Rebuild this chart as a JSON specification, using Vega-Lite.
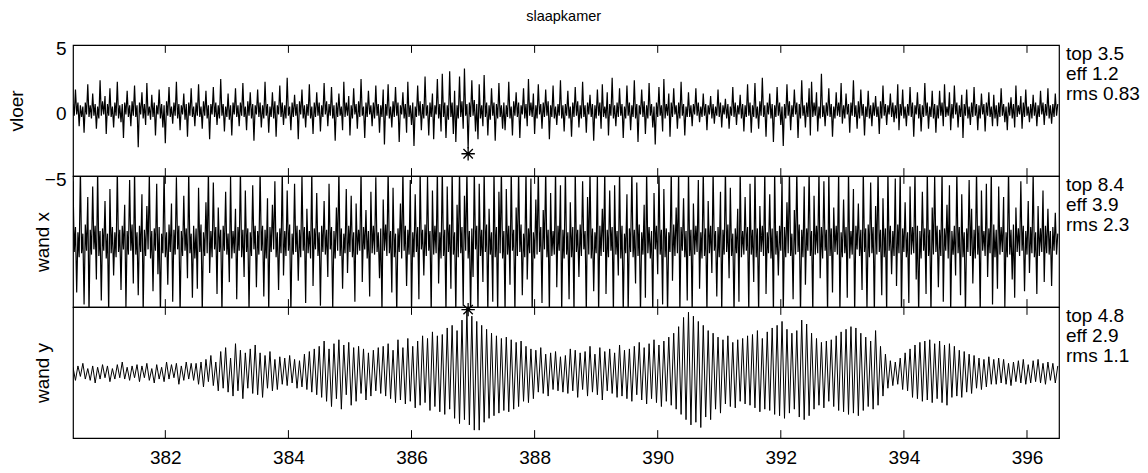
{
"$schema": "https://vega.github.io/schema/vega-lite/v6.json",
"background": "white",
"padding": {"left": 6, "top": 8, "right": 5, "bottom": 5},
"title": {"text": "slaapkamer", "font": "Liberation Sans", "fontSize": 14.5, "fontWeight": "normal", "color": "black", "anchor": "middle", "offset": 14, "dx": -10},
"bounds": "flush",
"spacing": 0,
"config": {
  "font": "Liberation Sans",
  "view": {"stroke": "black", "strokeWidth": 1.2},
  "axis": {"grid": false, "domain": false, "tickColor": "black", "labelColor": "black", "titleColor": "black", "labelFont": "Liberation Sans", "titleFont": "Liberation Sans", "labelFontSize": 19, "titleFontSize": 19, "titleFontWeight": "normal", "tickWidth": 1}
},
"datasets": {
"ticks": [{"tk":382},{"tk":384},{"tk":386},{"tk":388},{"tk":390},{"tk":392},{"tk":394},{"tk":396}],
"stars": [{"t":386.92,"v":-3.3,"p":"a"},{"t":386.92,"v":4.8,"p":"c"}],
"sig": [
{"t":380.50,"a":0.5,"b":4.6,"c":0.4},{"t":380.52,"a":-0.4,"b":-0.8},
{"t":380.54,"a":1.6,"b":1.1,"c":-0.6},{"t":380.56,"a":-0.3,"b":-3.9},
{"t":380.58,"a":0.6,"b":0.7,"c":0.5},{"t":380.60,"a":-1.2,"b":-1.2},
{"t":380.62,"a":0.4,"b":5.5,"c":-0.3},{"t":380.64,"a":-0.5,"b":-0.9},
{"t":380.66,"a":0.3,"b":0.6,"c":0.7},{"t":380.68,"a":-1.7,"b":-4.8},
{"t":380.70,"a":0.6,"b":1.3,"c":-0.5},{"t":380.72,"a":-0.3,"b":-0.7},
{"t":380.74,"a":2.0,"b":3.4,"c":0.3},{"t":380.76,"a":-0.5,"b":-5.5},
{"t":380.78,"a":0.4,"b":0.9,"c":-0.6},{"t":380.80,"a":-0.6,"b":-1.0},
{"t":380.82,"a":1.3,"b":4.2,"c":0.5},{"t":380.84,"a":-0.4,"b":-0.6},
{"t":380.86,"a":0.5,"b":1.2,"c":-0.8},{"t":380.88,"a":-1.4,"b":-2.9},
{"t":380.90,"a":0.3,"b":5.5,"c":0.4},{"t":380.92,"a":-0.6,"b":-1.1},
{"t":380.94,"a":2.3,"b":0.8,"c":-0.5},{"t":380.96,"a":-0.4,"b":-4.5},
{"t":380.98,"a":0.7,"b":1.0,"c":0.6},{"t":381.00,"a":-0.3,"b":-0.7},
{"t":381.02,"a":1.1,"b":3.1,"c":-0.4},{"t":381.04,"a":-1.8,"b":-1.3},
{"t":381.06,"a":0.5,"b":0.6,"c":0.5},{"t":381.08,"a":-0.4,"b":-5.5},
{"t":381.10,"a":1.7,"b":4.0,"c":-0.7},{"t":381.12,"a":-0.5,"b":-0.9},
{"t":381.14,"a":0.3,"b":1.1,"c":0.3},{"t":381.16,"a":-1.3,"b":-2.6},
{"t":381.18,"a":0.6,"b":0.7,"c":-0.5},{"t":381.20,"a":-0.4,"b":-1.2},
{"t":381.22,"a":2.2,"b":5.5,"c":0.6},{"t":381.24,"a":-0.6,"b":-0.8},
{"t":381.26,"a":0.4,"b":0.9,"c":-0.4},{"t":381.28,"a":-0.9,"b":-3.7},
{"t":381.30,"a":0.5,"b":1.2,"c":0.8},{"t":381.32,"a":-2.1,"b":-0.6},
{"t":381.34,"a":0.6,"b":2.8,"c":-0.5},{"t":381.36,"a":-0.3,"b":-5.1},
{"t":381.38,"a":1.5,"b":0.8,"c":0.4},{"t":381.40,"a":-0.5,"b":-1.0},
{"t":381.42,"a":0.4,"b":4.7,"c":-0.6},{"t":381.44,"a":-1.2,"b":-0.7},
{"t":381.46,"a":0.7,"b":1.3,"c":0.5},{"t":381.48,"a":-0.4,"b":-3.2},
{"t":381.50,"a":1.9,"b":5.5,"c":-0.4},{"t":381.52,"a":-0.5,"b":-1.0},
{"t":381.54,"a":0.4,"b":0.7,"c":0.6},{"t":381.56,"a":-2.8,"b":-4.1},
{"t":381.58,"a":0.6,"b":1.2,"c":-0.7},{"t":381.60,"a":-0.3,"b":-0.8},
{"t":381.62,"a":1.4,"b":3.6,"c":0.5},{"t":381.64,"a":-0.6,"b":-5.5},
{"t":381.66,"a":0.5,"b":0.9,"c":-0.4},{"t":381.68,"a":-1.1,"b":-1.1},
{"t":381.70,"a":2.1,"b":2.7,"c":0.7},{"t":381.72,"a":-0.4,"b":-0.6},
{"t":381.74,"a":0.3,"b":5.2,"c":-0.6},{"t":381.76,"a":-0.7,"b":-1.3},
{"t":381.78,"a":1.2,"b":0.8,"c":0.3},{"t":381.80,"a":-0.5,"b":-3.8},
{"t":381.82,"a":0.6,"b":1.0,"c":-0.8},{"t":381.84,"a":-1.9,"b":-0.7},
{"t":381.86,"a":0.4,"b":4.4,"c":0.6},{"t":381.88,"a":-0.3,"b":-2.5},
{"t":381.90,"a":1.6,"b":1.1,"c":-0.5},{"t":381.92,"a":-0.6,"b":-5.5},
{"t":381.94,"a":0.5,"b":0.6,"c":0.4},{"t":381.96,"a":-1.3,"b":-0.9},
{"t":381.98,"a":0.4,"b":5.5,"c":-0.7},{"t":382.00,"a":-2.5,"b":-1.2},
{"t":382.02,"a":0.7,"b":0.7,"c":0.8},{"t":382.04,"a":-0.4,"b":-3.3},
{"t":382.06,"a":1.8,"b":1.3,"c":-0.5},{"t":382.08,"a":-0.5,"b":-0.8},
{"t":382.10,"a":0.3,"b":2.9,"c":0.6},{"t":382.12,"a":-1.0,"b":-4.6},
{"t":382.14,"a":0.6,"b":0.9,"c":-0.4},{"t":382.16,"a":-0.4,"b":-1.0},
{"t":382.18,"a":2.2,"b":4.9,"c":0.7},{"t":382.20,"a":-0.6,"b":-0.6},
{"t":382.22,"a":0.5,"b":1.2,"c":-0.9},{"t":382.24,"a":-1.5,"b":-5.5},
{"t":382.26,"a":0.4,"b":0.8,"c":0.5},{"t":382.28,"a":-0.3,"b":-1.1},
{"t":382.30,"a":1.3,"b":3.5,"c":-0.6},{"t":382.32,"a":-0.7,"b":-0.7},
{"t":382.34,"a":0.5,"b":1.0,"c":0.8},{"t":382.36,"a":-2.0,"b":-2.8},
{"t":382.38,"a":0.6,"b":5.5,"c":-0.5},{"t":382.40,"a":-0.4,"b":-0.9},
{"t":382.42,"a":1.7,"b":0.6,"c":0.7},{"t":382.44,"a":-0.5,"b":-4.3},
{"t":382.46,"a":0.3,"b":1.2,"c":-0.6},{"t":382.48,"a":-1.2,"b":-1.3},
{"t":382.50,"a":0.6,"b":1.0,"c":0.7},{"t":382.52,"a":-0.4,"b":-3.6},
{"t":382.54,"a":2.0,"b":4.1,"c":-0.9},{"t":382.56,"a":-0.5,"b":-0.8},
{"t":382.58,"a":0.3,"b":1.3,"c":0.8},{"t":382.60,"a":-1.4,"b":-5.5},
{"t":382.62,"a":0.7,"b":0.7,"c":-1.1},{"t":382.64,"a":-0.4,"b":-1.1},
{"t":382.66,"a":1.5,"b":3.0,"c":1.0},{"t":382.68,"a":-0.6,"b":-0.9},
{"t":382.70,"a":0.4,"b":5.5,"c":-0.7},{"t":382.72,"a":-2.2,"b":-2.4},
{"t":382.74,"a":0.5,"b":0.8,"c":1.3},{"t":382.76,"a":-0.3,"b":-1.2},
{"t":382.78,"a":1.8,"b":4.5,"c":-1.0},{"t":382.80,"a":-0.5,"b":-0.6},
{"t":382.82,"a":0.6,"b":1.1,"c":0.8},{"t":382.84,"a":-1.1,"b":-4.0},
{"t":382.86,"a":0.4,"b":2.6,"c":-1.4},{"t":382.88,"a":-0.6,"b":-0.8},
{"t":382.90,"a":2.4,"b":0.9,"c":1.6},{"t":382.92,"a":-0.4,"b":-5.5},
{"t":382.94,"a":0.5,"b":1.2,"c":-1.2},{"t":382.96,"a":-1.6,"b":-0.7},
{"t":382.98,"a":0.3,"b":3.8,"c":1.9},{"t":383.00,"a":-0.5,"b":-1.0},
{"t":383.02,"a":1.3,"b":0.6,"c":-1.5},{"t":383.04,"a":-0.7,"b":-3.1},
{"t":383.06,"a":0.4,"b":5.0,"c":1.1},{"t":383.08,"a":-1.9,"b":-1.3},
{"t":383.10,"a":0.6,"b":0.8,"c":-1.8},{"t":383.12,"a":-0.3,"b":-0.9},
{"t":383.14,"a":1.7,"b":2.5,"c":2.2},{"t":383.16,"a":-0.5,"b":-4.4},
{"t":383.18,"a":0.4,"b":1.1,"c":-1.4},{"t":383.20,"a":-1.2,"b":-0.7},
{"t":383.22,"a":0.6,"b":5.5,"c":1.7},{"t":383.24,"a":-0.4,"b":-1.2},
{"t":383.26,"a":2.1,"b":0.9,"c":-2.0},{"t":383.28,"a":-0.5,"b":-2.7},
{"t":383.30,"a":0.3,"b":3.9,"c":1.5},{"t":383.32,"a":-1.5,"b":-0.8},
{"t":383.34,"a":0.7,"b":1.0,"c":-1.2},{"t":383.36,"a":-0.4,"b":-5.3},
{"t":383.38,"a":1.4,"b":0.7,"c":1.8},{"t":383.40,"a":-0.6,"b":-1.1},
{"t":383.42,"a":0.5,"b":4.3,"c":-1.6},{"t":383.44,"a":-2.3,"b":-0.6},
{"t":383.46,"a":0.4,"b":1.2,"c":2.1},{"t":383.48,"a":-0.3,"b":-3.5},
{"t":383.50,"a":1.6,"b":0.8,"c":-1.7},{"t":383.52,"a":-0.5,"b":-1.0},
{"t":383.54,"a":0.6,"b":5.5,"c":1.5},{"t":383.56,"a":-1.3,"b":-0.7},
{"t":383.58,"a":0.4,"b":1.2,"c":-1.9},{"t":383.60,"a":-0.6,"b":-4.2},
{"t":383.62,"a":2.2,"b":0.9,"c":1.3},{"t":383.64,"a":-0.4,"b":-1.3},
{"t":383.66,"a":0.5,"b":3.3,"c":-1.2},{"t":383.68,"a":-1.7,"b":-5.5},
{"t":383.70,"a":0.3,"b":1.1,"c":1.6},{"t":383.72,"a":-0.5,"b":-0.8},
{"t":383.74,"a":1.4,"b":2.8,"c":-1.4},{"t":383.76,"a":-0.6,"b":-0.6},
{"t":383.78,"a":0.7,"b":4.6,"c":1.0},{"t":383.80,"a":-2.0,"b":-1.2},
{"t":383.82,"a":0.4,"b":0.7,"c":-1.3},{"t":383.84,"a":-0.3,"b":-3.7},
{"t":383.86,"a":1.9,"b":1.0,"c":1.2},{"t":383.88,"a":-0.5,"b":-0.9},
{"t":383.90,"a":0.6,"b":5.5,"c":-0.9},{"t":383.92,"a":-1.1,"b":-2.6},
{"t":383.94,"a":0.4,"b":0.8,"c":1.1},{"t":383.96,"a":-0.6,"b":-1.1},
{"t":383.98,"a":2.5,"b":3.9,"c":-1.0},{"t":384.00,"a":-0.4,"b":-0.7},
{"t":384.02,"a":0.3,"b":1.3,"c":1.3},{"t":384.04,"a":-1.5,"b":-5.5},
{"t":384.06,"a":0.6,"b":0.6,"c":-0.8},{"t":384.08,"a":-0.5,"b":-1.0},
{"t":384.10,"a":1.2,"b":4.4,"c":1.0},{"t":384.12,"a":-0.4,"b":-0.8},
{"t":384.14,"a":0.5,"b":1.2,"c":-1.2},{"t":384.16,"a":-2.2,"b":-3.0},
{"t":384.18,"a":0.7,"b":0.9,"c":0.9},{"t":384.20,"a":-0.3,"b":-1.2},
{"t":384.22,"a":1.6,"b":5.1,"c":-1.1},{"t":384.24,"a":-0.6,"b":-0.7},
{"t":384.26,"a":0.4,"b":1.1,"c":1.4},{"t":384.28,"a":-1.3,"b":-4.7},
{"t":384.30,"a":0.5,"b":2.5,"c":-1.3},{"t":384.32,"a":-0.4,"b":-0.9},
{"t":384.34,"a":2.0,"b":0.8,"c":1.6},{"t":384.36,"a":-0.6,"b":-1.3},
{"t":384.38,"a":0.3,"b":5.5,"c":-1.5},{"t":384.40,"a":-1.8,"b":-3.4},
{"t":384.42,"a":0.6,"b":1.0,"c":1.8},{"t":384.44,"a":-0.5,"b":-0.6},
{"t":384.46,"a":1.4,"b":3.7,"c":-1.7},{"t":384.48,"a":-0.4,"b":-1.1},
{"t":384.50,"a":0.6,"b":0.7,"c":2.0},{"t":384.52,"a":-1.6,"b":-4.9},
{"t":384.54,"a":0.4,"b":1.2,"c":-1.9},{"t":384.56,"a":-0.5,"b":-0.8},
{"t":384.58,"a":2.1,"b":3.1,"c":2.4},{"t":384.60,"a":-0.3,"b":-1.0},
{"t":384.62,"a":0.7,"b":0.9,"c":-2.2},{"t":384.64,"a":-1.2,"b":-2.7},
{"t":384.66,"a":0.5,"b":4.4,"c":1.8},{"t":384.68,"a":-0.4,"b":-0.6},
{"t":384.70,"a":1.8,"b":1.1,"c":-2.6},{"t":384.72,"a":-0.6,"b":-5.2},
{"t":384.74,"a":0.4,"b":0.8,"c":2.2},{"t":384.76,"a":-2.3,"b":-1.3},
{"t":384.78,"a":0.6,"b":2.6,"c":-2.0},{"t":384.80,"a":-0.5,"b":-0.7},
{"t":384.82,"a":1.3,"b":5.5,"c":2.5},{"t":384.84,"a":-0.4,"b":-1.1},
{"t":384.86,"a":0.3,"b":1.0,"c":-2.8},{"t":384.88,"a":-1.5,"b":-3.6},
{"t":384.90,"a":2.2,"b":0.6,"c":2.1},{"t":384.92,"a":-0.5,"b":-0.9},
{"t":384.94,"a":0.6,"b":4.0,"c":-1.7},{"t":384.96,"a":-0.4,"b":-2.4},
{"t":384.98,"a":1.1,"b":1.2,"c":2.3},{"t":385.00,"a":-1.9,"b":-0.8},
{"t":385.02,"a":0.4,"b":3.5,"c":-2.5},{"t":385.04,"a":-0.6,"b":-1.2},
{"t":385.06,"a":1.7,"b":0.7,"c":1.9},{"t":385.08,"a":-0.3,"b":-4.6},
{"t":385.10,"a":0.5,"b":2.9,"c":-2.2},{"t":385.12,"a":-1.4,"b":-1.0},
{"t":385.14,"a":0.7,"b":0.9,"c":2.0},{"t":385.16,"a":-0.5,"b":-0.7},
{"t":385.18,"a":2.4,"b":5.5,"c":-1.6},{"t":385.20,"a":-0.4,"b":-3.1},
{"t":385.22,"a":0.3,"b":1.1,"c":1.8},{"t":385.24,"a":-2.1,"b":-0.6},
{"t":385.26,"a":0.6,"b":2.4,"c":-2.1},{"t":385.28,"a":-0.5,"b":-1.3},
{"t":385.30,"a":1.5,"b":0.8,"c":1.5},{"t":385.32,"a":-0.3,"b":-4.2},
{"t":385.34,"a":0.4,"b":3.8,"c":-1.8},{"t":385.36,"a":-1.2,"b":-0.9},
{"t":385.38,"a":0.6,"b":1.2,"c":1.7},{"t":385.40,"a":-0.6,"b":-1.0},
{"t":385.42,"a":1.9,"b":4.9,"c":-1.4},{"t":385.44,"a":-0.4,"b":-0.8},
{"t":385.46,"a":0.5,"b":0.7,"c":1.9},{"t":385.48,"a":-1.7,"b":-2.8},
{"t":385.50,"a":0.4,"b":1.0,"c":-1.6},{"t":385.52,"a":-0.5,"b":-5.5},
{"t":385.54,"a":1.6,"b":3.2,"c":2.0},{"t":385.56,"a":-2.6,"b":-0.7},
{"t":385.58,"a":0.5,"b":1.3,"c":-1.8},{"t":385.60,"a":-0.4,"b":-1.1},
{"t":385.62,"a":2.0,"b":5.5,"c":2.2},{"t":385.64,"a":-0.6,"b":-0.9},
{"t":385.66,"a":0.3,"b":0.8,"c":-2.0},{"t":385.68,"a":-1.3,"b":-3.9},
{"t":385.70,"a":0.7,"b":4.1,"c":1.7},{"t":385.72,"a":-0.5,"b":-1.2},
{"t":385.74,"a":1.8,"b":0.6,"c":-2.3},{"t":385.76,"a":-0.4,"b":-5.5},
{"t":385.78,"a":0.6,"b":1.0,"c":2.5},{"t":385.80,"a":-2.4,"b":-0.8},
{"t":385.82,"a":0.4,"b":2.9,"c":-2.1},{"t":385.84,"a":-0.3,"b":-1.3},
{"t":385.86,"a":1.4,"b":5.5,"c":1.9},{"t":385.88,"a":-0.6,"b":-0.7},
{"t":385.90,"a":0.5,"b":1.2,"c":-2.4},{"t":385.92,"a":-1.7,"b":-3.4},
{"t":385.94,"a":2.2,"b":0.9,"c":2.6},{"t":385.96,"a":-0.5,"b":-1.0},
{"t":385.98,"a":0.4,"b":4.7,"c":-2.2},{"t":386.00,"a":-1.1,"b":-5.5},
{"t":386.02,"a":0.6,"b":0.7,"c":2.0},{"t":386.04,"a":-2.7,"b":-1.2},
{"t":386.06,"a":0.3,"b":3.6,"c":-2.7},{"t":386.08,"a":-0.5,"b":-0.8},
{"t":386.10,"a":1.9,"b":1.1,"c":2.4},{"t":386.12,"a":-0.4,"b":-4.4},
{"t":386.14,"a":0.7,"b":5.5,"c":-2.5},{"t":386.16,"a":-1.5,"b":-0.6},
{"t":386.18,"a":0.5,"b":0.9,"c":2.8},{"t":386.20,"a":-0.6,"b":-2.6},
{"t":386.22,"a":2.6,"b":1.3,"c":-2.3},{"t":386.24,"a":-0.4,"b":-1.1},
{"t":386.26,"a":0.4,"b":5.0,"c":2.6},{"t":386.28,"a":-1.9,"b":-0.7},
{"t":386.30,"a":0.6,"b":0.8,"c":-2.9},{"t":386.32,"a":-0.5,"b":-5.5},
{"t":386.34,"a":1.3,"b":3.9,"c":3.1},{"t":386.36,"a":-2.2,"b":-1.0},
{"t":386.38,"a":0.4,"b":1.2,"c":-2.6},{"t":386.40,"a":-0.3,"b":-0.9},
{"t":386.42,"a":2.4,"b":5.5,"c":2.8},{"t":386.44,"a":-0.6,"b":-3.2},
{"t":386.46,"a":0.5,"b":0.7,"c":-3.0},{"t":386.48,"a":-1.6,"b":-1.3},
{"t":386.50,"a":2.8,"b":5.5,"c":2.9},{"t":386.52,"a":-0.5,"b":-1.1},
{"t":386.54,"a":0.6,"b":0.9,"c":-3.2},{"t":386.56,"a":-2.1,"b":-5.5},
{"t":386.58,"a":0.4,"b":4.2,"c":3.4},{"t":386.60,"a":-0.7,"b":-0.8},
{"t":386.62,"a":3.0,"b":1.3,"c":-2.8},{"t":386.64,"a":-0.5,"b":-3.6},
{"t":386.66,"a":0.6,"b":5.5,"c":3.6},{"t":386.68,"a":-1.8,"b":-1.0},
{"t":386.70,"a":1.5,"b":0.7,"c":-3.5},{"t":386.72,"a":-2.4,"b":-5.5},
{"t":386.74,"a":0.4,"b":2.8,"c":3.2},{"t":386.76,"a":-0.6,"b":-1.2},
{"t":386.78,"a":2.6,"b":5.5,"c":-3.9},{"t":386.80,"a":-0.5,"b":-0.9},
{"t":386.82,"a":0.7,"b":1.1,"c":4.0},{"t":386.84,"a":-1.4,"b":-4.9},
{"t":386.86,"a":3.2,"b":3.5,"c":-3.6},{"t":386.88,"a":-0.4,"b":-0.7},
{"t":386.90,"a":0.5,"b":5.5,"c":4.8},{"t":386.92,"a":-2.9,"b":-1.3},
{"t":386.94,"a":0.6,"b":0.8,"c":-4.0},{"t":386.96,"a":-0.5,"b":-5.5},
{"t":386.98,"a":2.3,"b":1.0,"c":4.3},{"t":387.00,"a":-0.4,"b":-2.7},
{"t":387.02,"a":0.8,"b":5.5,"c":-4.4},{"t":387.04,"a":-1.6,"b":-0.6},
{"t":387.06,"a":0.5,"b":1.2,"c":3.9},{"t":387.08,"a":-2.2,"b":-5.5},
{"t":387.10,"a":2.0,"b":4.4,"c":-4.4},{"t":387.12,"a":-0.6,"b":-1.1},
{"t":387.14,"a":0.4,"b":0.9,"c":3.6},{"t":387.16,"a":-1.2,"b":-3.1},
{"t":387.18,"a":2.7,"b":5.5,"c":-3.8},{"t":387.20,"a":-0.5,"b":-0.8},
{"t":387.22,"a":0.6,"b":1.3,"c":3.3},{"t":387.24,"a":-1.9,"b":-5.5},
{"t":387.26,"a":0.4,"b":2.5,"c":-3.5},{"t":387.28,"a":-0.7,"b":-1.0},
{"t":387.30,"a":1.7,"b":0.7,"c":3.0},{"t":387.32,"a":-0.4,"b":-4.6},
{"t":387.34,"a":0.6,"b":5.5,"c":-3.3},{"t":387.36,"a":-2.3,"b":-1.2},
{"t":387.38,"a":0.5,"b":1.1,"c":2.8},{"t":387.40,"a":-0.6,"b":-5.5},
{"t":387.42,"a":2.1,"b":3.8,"c":-3.1},{"t":387.44,"a":-0.5,"b":-0.9},
{"t":387.46,"a":0.4,"b":5.5,"c":2.6},{"t":387.48,"a":-1.4,"b":-1.3},
{"t":387.50,"a":0.6,"b":0.8,"c":-2.9},{"t":387.52,"a":-1.5,"b":-5.5},
{"t":387.54,"a":0.4,"b":4.0,"c":2.7},{"t":387.56,"a":-0.5,"b":-1.0},
{"t":387.58,"a":2.2,"b":1.2,"c":-3.0},{"t":387.60,"a":-0.6,"b":-3.3},
{"t":387.62,"a":0.3,"b":5.5,"c":2.5},{"t":387.64,"a":-1.9,"b":-0.7},
{"t":387.66,"a":0.7,"b":0.9,"c":-2.8},{"t":387.68,"a":-0.4,"b":-5.5},
{"t":387.70,"a":1.4,"b":2.6,"c":2.3},{"t":387.72,"a":-0.5,"b":-1.1},
{"t":387.74,"a":0.6,"b":5.5,"c":-2.6},{"t":387.76,"a":-2.1,"b":-0.8},
{"t":387.78,"a":0.4,"b":1.3,"c":2.4},{"t":387.80,"a":-0.3,"b":-4.1},
{"t":387.82,"a":1.7,"b":0.6,"c":-2.2},{"t":387.84,"a":-0.6,"b":-1.2},
{"t":387.86,"a":0.5,"b":5.5,"c":2.0},{"t":387.88,"a":-1.2,"b":-2.9},
{"t":387.90,"a":2.4,"b":1.0,"c":-2.3},{"t":387.92,"a":-0.4,"b":-0.9},
{"t":387.94,"a":0.6,"b":4.8,"c":1.8},{"t":387.96,"a":-0.5,"b":-5.5},
{"t":387.98,"a":1.3,"b":0.7,"c":-2.0},{"t":388.00,"a":-1.8,"b":-1.3},
{"t":388.02,"a":0.4,"b":3.2,"c":1.7},{"t":388.04,"a":-0.6,"b":-1.0},
{"t":388.06,"a":2.0,"b":5.5,"c":-1.5},{"t":388.08,"a":-0.3,"b":-0.8},
{"t":388.10,"a":0.5,"b":1.1,"c":1.9},{"t":388.12,"a":-1.4,"b":-4.7},
{"t":388.14,"a":0.6,"b":2.4,"c":-1.6},{"t":388.16,"a":-0.5,"b":-0.6},
{"t":388.18,"a":1.6,"b":5.5,"c":1.4},{"t":388.20,"a":-0.4,"b":-1.2},
{"t":388.22,"a":0.7,"b":0.9,"c":-1.8},{"t":388.24,"a":-2.2,"b":-5.5},
{"t":388.26,"a":0.4,"b":3.7,"c":1.5},{"t":388.28,"a":-0.5,"b":-1.1},
{"t":388.30,"a":1.9,"b":0.8,"c":-1.3},{"t":388.32,"a":-0.6,"b":-1.0},
{"t":388.34,"a":0.3,"b":5.5,"c":1.6},{"t":388.36,"a":-1.1,"b":-3.5},
{"t":388.38,"a":0.5,"b":1.2,"c":-1.4},{"t":388.40,"a":-0.4,"b":-0.7},
{"t":388.42,"a":2.3,"b":4.3,"c":1.2},{"t":388.44,"a":-0.6,"b":-5.5},
{"t":388.46,"a":0.4,"b":0.9,"c":-1.5},{"t":388.48,"a":-1.6,"b":-1.3},
{"t":388.50,"a":0.5,"b":5.5,"c":1.3},{"t":388.52,"a":-0.4,"b":-1.0},
{"t":388.54,"a":1.5,"b":0.7,"c":-1.6},{"t":388.56,"a":-0.6,"b":-4.4},
{"t":388.58,"a":0.3,"b":3.0,"c":1.8},{"t":388.60,"a":-2.0,"b":-1.2},
{"t":388.62,"a":0.6,"b":1.1,"c":-1.4},{"t":388.64,"a":-0.5,"b":-5.5},
{"t":388.66,"a":1.8,"b":5.5,"c":1.7},{"t":388.68,"a":-0.4,"b":-0.8},
{"t":388.70,"a":0.7,"b":0.9,"c":-1.9},{"t":388.72,"a":-1.3,"b":-2.7},
{"t":388.74,"a":0.4,"b":1.3,"c":1.5},{"t":388.76,"a":-0.6,"b":-1.1},
{"t":388.78,"a":2.2,"b":4.6,"c":-1.3},{"t":388.80,"a":-0.5,"b":-0.6},
{"t":388.82,"a":0.4,"b":0.8,"c":1.6},{"t":388.84,"a":-1.7,"b":-5.5},
{"t":388.86,"a":0.6,"b":3.4,"c":-1.8},{"t":388.88,"a":-0.3,"b":-1.0},
{"t":388.90,"a":1.2,"b":5.5,"c":2.0},{"t":388.92,"a":-0.5,"b":-1.3},
{"t":388.94,"a":0.5,"b":1.0,"c":-1.5},{"t":388.96,"a":-2.3,"b":-3.8},
{"t":388.98,"a":0.4,"b":0.7,"c":1.4},{"t":389.00,"a":-0.6,"b":-0.9},
{"t":389.02,"a":1.6,"b":5.2,"c":-1.7},{"t":389.04,"a":-0.4,"b":-5.5},
{"t":389.06,"a":0.6,"b":1.2,"c":1.9},{"t":389.08,"a":-1.4,"b":-1.1},
{"t":389.10,"a":2.0,"b":2.5,"c":-2.1},{"t":389.12,"a":-0.5,"b":-0.8},
{"t":389.14,"a":0.3,"b":5.5,"c":1.6},{"t":389.16,"a":-0.6,"b":-4.0},
{"t":389.18,"a":1.4,"b":0.9,"c":-1.4},{"t":389.20,"a":-1.9,"b":-1.2},
{"t":389.22,"a":0.5,"b":3.9,"c":1.8},{"t":389.24,"a":-0.4,"b":-0.7},
{"t":389.26,"a":2.5,"b":1.1,"c":-1.6},{"t":389.28,"a":-0.6,"b":-5.5},
{"t":389.30,"a":0.4,"b":4.3,"c":1.5},{"t":389.32,"a":-1.2,"b":-1.0},
{"t":389.34,"a":0.6,"b":0.8,"c":-1.9},{"t":389.36,"a":-0.5,"b":-2.6},
{"t":389.38,"a":1.7,"b":5.5,"c":2.1},{"t":389.40,"a":-0.4,"b":-1.3},
{"t":389.42,"a":0.5,"b":1.2,"c":-1.8},{"t":389.44,"a":-2.1,"b":-5.5},
{"t":389.46,"a":0.3,"b":0.6,"c":1.7},{"t":389.48,"a":-0.6,"b":-0.9},
{"t":389.50,"a":1.9,"b":3.6,"c":-2.0},{"t":389.52,"a":-0.4,"b":-5.5},
{"t":389.54,"a":0.6,"b":1.0,"c":1.8},{"t":389.56,"a":-1.5,"b":-0.8},
{"t":389.58,"a":0.4,"b":5.5,"c":-2.2},{"t":389.60,"a":-0.5,"b":-1.2},
{"t":389.62,"a":2.3,"b":0.9,"c":2.0},{"t":389.64,"a":-0.6,"b":-3.2},
{"t":389.66,"a":0.5,"b":4.5,"c":-1.7},{"t":389.68,"a":-2.4,"b":-1.1},
{"t":389.70,"a":0.4,"b":1.3,"c":2.3},{"t":389.72,"a":-0.3,"b":-5.5},
{"t":389.74,"a":1.6,"b":0.7,"c":-2.1},{"t":389.76,"a":-0.5,"b":-1.0},
{"t":389.78,"a":0.7,"b":2.8,"c":1.9},{"t":389.80,"a":-1.8,"b":-4.3},
{"t":389.82,"a":0.4,"b":5.5,"c":-2.4},{"t":389.84,"a":-0.6,"b":-0.9},
{"t":389.86,"a":2.1,"b":1.1,"c":2.2},{"t":389.88,"a":-0.4,"b":-1.3},
{"t":389.90,"a":0.5,"b":0.8,"c":-2.0},{"t":389.92,"a":-1.3,"b":-5.5},
{"t":389.94,"a":0.3,"b":3.7,"c":2.5},{"t":389.96,"a":-2.6,"b":-0.6},
{"t":389.98,"a":0.6,"b":1.2,"c":-2.3},{"t":390.00,"a":-0.5,"b":-2.5},
{"t":390.02,"a":1.8,"b":5.5,"c":2.1},{"t":390.04,"a":-0.4,"b":-1.0},
{"t":390.06,"a":0.4,"b":0.9,"c":-2.6},{"t":390.08,"a":-1.6,"b":-4.8},
{"t":390.10,"a":2.4,"b":4.0,"c":2.4},{"t":390.12,"a":-0.6,"b":-1.2},
{"t":390.14,"a":0.5,"b":1.0,"c":-2.2},{"t":390.16,"a":-0.4,"b":-5.5},
{"t":390.18,"a":1.3,"b":0.7,"c":2.7},{"t":390.20,"a":-2.0,"b":-0.8},
{"t":390.22,"a":0.6,"b":5.5,"c":-2.5},{"t":390.24,"a":-0.5,"b":-3.0},
{"t":390.26,"a":1.7,"b":1.3,"c":3.0},{"t":390.28,"a":-0.3,"b":-1.1},
{"t":390.30,"a":0.4,"b":2.6,"c":-2.8},{"t":390.32,"a":-1.4,"b":-0.9},
{"t":390.34,"a":0.6,"b":5.5,"c":3.5},{"t":390.36,"a":-0.6,"b":-5.5},
{"t":390.38,"a":2.2,"b":1.1,"c":-3.2},{"t":390.40,"a":-0.4,"b":-0.7},
{"t":390.42,"a":0.5,"b":3.3,"c":4.2},{"t":390.44,"a":-1.9,"b":-1.2},
{"t":390.46,"a":0.3,"b":0.8,"c":-3.6},{"t":390.48,"a":-0.5,"b":-4.5},
{"t":390.50,"a":1.4,"b":5.5,"c":4.6},{"t":390.52,"a":-0.5,"b":-1.1},
{"t":390.54,"a":0.4,"b":0.9,"c":-4.0},{"t":390.56,"a":-1.2,"b":-5.5},
{"t":390.58,"a":0.5,"b":2.9,"c":4.3},{"t":390.60,"a":-0.3,"b":-1.0},
{"t":390.62,"a":1.7,"b":1.2,"c":-3.8},{"t":390.64,"a":-0.4,"b":-0.8},
{"t":390.66,"a":0.6,"b":4.7,"c":3.9},{"t":390.68,"a":-0.9,"b":-3.6},
{"t":390.70,"a":0.3,"b":0.7,"c":-4.2},{"t":390.72,"a":-0.5,"b":-1.3},
{"t":390.74,"a":1.3,"b":5.5,"c":3.6},{"t":390.76,"a":-0.4,"b":-1.1},
{"t":390.78,"a":0.5,"b":1.0,"c":-3.4},{"t":390.80,"a":-1.5,"b":-5.5},
{"t":390.82,"a":0.4,"b":3.1,"c":3.2},{"t":390.84,"a":-0.3,"b":-0.9},
{"t":390.86,"a":1.1,"b":1.2,"c":-3.6},{"t":390.88,"a":-0.6,"b":-2.4},
{"t":390.90,"a":0.5,"b":5.5,"c":3.0},{"t":390.92,"a":-1.0,"b":-0.7},
{"t":390.94,"a":0.3,"b":0.8,"c":-2.8},{"t":390.96,"a":-0.4,"b":-4.2},
{"t":390.98,"a":1.6,"b":1.1,"c":2.7},{"t":391.00,"a":-0.5,"b":-1.2},
{"t":391.02,"a":0.6,"b":3.8,"c":-3.1},{"t":391.04,"a":-1.3,"b":-5.5},
{"t":391.06,"a":0.4,"b":0.9,"c":2.5},{"t":391.08,"a":-0.3,"b":-1.0},
{"t":391.10,"a":0.9,"b":5.5,"c":-2.4},{"t":391.12,"a":-0.6,"b":-0.8},
{"t":391.14,"a":0.5,"b":1.3,"c":2.8},{"t":391.16,"a":-1.4,"b":-2.8},
{"t":391.18,"a":0.3,"b":4.1,"c":-2.6},{"t":391.20,"a":-0.4,"b":-1.1},
{"t":391.22,"a":1.8,"b":0.6,"c":2.3},{"t":391.24,"a":-0.5,"b":-5.5},
{"t":391.26,"a":0.6,"b":1.0,"c":-2.7},{"t":391.28,"a":-1.1,"b":-0.9},
{"t":391.30,"a":0.4,"b":2.5,"c":2.5},{"t":391.32,"a":-0.3,"b":-4.6},
{"t":391.34,"a":1.2,"b":5.5,"c":-2.2},{"t":391.36,"a":-0.6,"b":-1.2},
{"t":391.38,"a":0.5,"b":0.8,"c":2.6},{"t":391.40,"a":-1.6,"b":-1.0},
{"t":391.42,"a":0.4,"b":3.4,"c":-2.4},{"t":391.44,"a":-0.5,"b":-0.7},
{"t":391.46,"a":2.0,"b":1.1,"c":2.8},{"t":391.48,"a":-0.4,"b":-5.5},
{"t":391.50,"a":0.6,"b":4.4,"c":-2.5},{"t":391.52,"a":-1.7,"b":-1.0},
{"t":391.54,"a":0.4,"b":0.9,"c":2.9},{"t":391.56,"a":-0.5,"b":-3.1},
{"t":391.58,"a":2.1,"b":5.5,"c":-2.7},{"t":391.60,"a":-0.6,"b":-1.2},
{"t":391.62,"a":0.3,"b":1.0,"c":3.2},{"t":391.64,"a":-1.4,"b":-5.5},
{"t":391.66,"a":0.7,"b":2.7,"c":-3.0},{"t":391.68,"a":-0.4,"b":-0.8},
{"t":391.70,"a":2.5,"b":1.2,"c":2.6},{"t":391.72,"a":-0.5,"b":-1.1},
{"t":391.74,"a":0.4,"b":5.5,"c":-2.8},{"t":391.76,"a":-2.0,"b":-4.0},
{"t":391.78,"a":0.6,"b":0.7,"c":3.1},{"t":391.80,"a":-0.3,"b":-0.9},
{"t":391.82,"a":1.3,"b":3.6,"c":-2.9},{"t":391.84,"a":-0.6,"b":-1.3},
{"t":391.86,"a":0.5,"b":1.0,"c":3.4},{"t":391.88,"a":-2.4,"b":-5.5},
{"t":391.90,"a":0.4,"b":5.5,"c":-3.2},{"t":391.92,"a":-0.5,"b":-1.0},
{"t":391.94,"a":1.8,"b":0.8,"c":3.6},{"t":391.96,"a":-0.4,"b":-2.6},
{"t":391.98,"a":0.6,"b":1.2,"c":-3.3},{"t":392.00,"a":-1.1,"b":-0.7},
{"t":392.02,"a":0.3,"b":4.9,"c":3.9},{"t":392.04,"a":-2.7,"b":-5.5},
{"t":392.06,"a":0.5,"b":1.1,"c":-3.5},{"t":392.08,"a":-0.6,"b":-1.2},
{"t":392.10,"a":2.0,"b":3.0,"c":3.3},{"t":392.12,"a":-0.4,"b":-0.9},
{"t":392.14,"a":0.7,"b":5.5,"c":-3.1},{"t":392.16,"a":-1.5,"b":-1.1},
{"t":392.18,"a":0.4,"b":0.6,"c":3.0},{"t":392.20,"a":-0.5,"b":-4.4},
{"t":392.22,"a":1.6,"b":2.4,"c":-2.8},{"t":392.24,"a":-0.3,"b":-1.0},
{"t":392.26,"a":0.6,"b":5.5,"c":3.2},{"t":392.28,"a":-2.1,"b":-0.8},
{"t":392.30,"a":0.5,"b":1.3,"c":-3.4},{"t":392.32,"a":-0.6,"b":-5.5},
{"t":392.34,"a":2.3,"b":0.9,"c":4.0},{"t":392.36,"a":-0.4,"b":-1.2},
{"t":392.38,"a":0.4,"b":4.2,"c":-3.6},{"t":392.40,"a":-1.3,"b":-3.3},
{"t":392.42,"a":0.6,"b":1.0,"c":3.7},{"t":392.44,"a":-0.5,"b":-0.7},
{"t":392.46,"a":1.7,"b":5.5,"c":-3.3},{"t":392.48,"a":-1.9,"b":-1.1},
{"t":392.50,"a":2.2,"b":0.8,"c":3.0},{"t":392.52,"a":-0.5,"b":-5.5},
{"t":392.54,"a":0.6,"b":3.5,"c":-2.8},{"t":392.56,"a":-0.4,"b":-1.0},
{"t":392.58,"a":1.4,"b":1.2,"c":2.6},{"t":392.60,"a":-1.6,"b":-0.9},
{"t":392.62,"a":0.3,"b":5.5,"c":-2.5},{"t":392.64,"a":-0.6,"b":-2.8},
{"t":392.66,"a":2.8,"b":1.1,"c":2.3},{"t":392.68,"a":-0.5,"b":-1.3},
{"t":392.70,"a":0.4,"b":4.6,"c":-2.7},{"t":392.72,"a":-1.2,"b":-0.7},
{"t":392.74,"a":0.6,"b":0.9,"c":2.4},{"t":392.76,"a":-0.4,"b":-5.5},
{"t":392.78,"a":1.7,"b":5.5,"c":-2.2},{"t":392.80,"a":-0.5,"b":-1.1},
{"t":392.82,"a":0.5,"b":1.0,"c":2.5},{"t":392.84,"a":-2.0,"b":-3.9},
{"t":392.86,"a":0.3,"b":2.6,"c":-2.6},{"t":392.88,"a":-0.6,"b":-0.8},
{"t":392.90,"a":1.4,"b":1.2,"c":2.8},{"t":392.92,"a":-0.4,"b":-1.0},
{"t":392.94,"a":0.6,"b":5.5,"c":-2.9},{"t":392.96,"a":-0.5,"b":-5.5},
{"t":392.98,"a":2.1,"b":0.7,"c":3.1},{"t":393.00,"a":-1.0,"b":-1.2},
{"t":393.02,"a":0.4,"b":3.2,"c":-3.0},{"t":393.04,"a":-0.6,"b":-0.9},
{"t":393.06,"a":1.3,"b":1.1,"c":3.3},{"t":393.08,"a":-0.3,"b":-4.3},
{"t":393.10,"a":0.5,"b":5.5,"c":-3.2},{"t":393.12,"a":-1.7,"b":-1.3},
{"t":393.14,"a":0.6,"b":0.8,"c":3.5},{"t":393.16,"a":-0.4,"b":-1.0},
{"t":393.18,"a":2.3,"b":4.0,"c":-3.1},{"t":393.20,"a":-0.5,"b":-5.5},
{"t":393.22,"a":0.4,"b":1.2,"c":3.4},{"t":393.24,"a":-1.4,"b":-0.6},
{"t":393.26,"a":0.7,"b":2.9,"c":-3.3},{"t":393.28,"a":-0.6,"b":-1.1},
{"t":393.30,"a":1.6,"b":0.9,"c":3.0},{"t":393.32,"a":-0.4,"b":-3.7},
{"t":393.34,"a":0.5,"b":5.5,"c":-2.9},{"t":393.36,"a":-1.9,"b":-0.8},
{"t":393.38,"a":0.3,"b":1.0,"c":2.7},{"t":393.40,"a":-0.5,"b":-5.2},
{"t":393.42,"a":1.5,"b":1.3,"c":-2.6},{"t":393.44,"a":-0.6,"b":-1.2},
{"t":393.46,"a":0.4,"b":4.5,"c":2.4},{"t":393.48,"a":-1.2,"b":-0.9},
{"t":393.50,"a":0.6,"b":1.1,"c":-2.8},{"t":393.52,"a":-0.4,"b":-5.5},
{"t":393.54,"a":1.1,"b":2.7,"c":3.2},{"t":393.56,"a":-0.5,"b":-1.0},
{"t":393.58,"a":0.3,"b":5.5,"c":-2.5},{"t":393.60,"a":-1.8,"b":-0.8},
{"t":393.62,"a":0.7,"b":0.9,"c":2.0},{"t":393.64,"a":-0.6,"b":-4.1},
{"t":393.66,"a":1.9,"b":3.3,"c":-1.8},{"t":393.68,"a":-0.4,"b":-1.2},
{"t":393.70,"a":0.5,"b":1.0,"c":1.4},{"t":393.72,"a":-1.1,"b":-5.5},
{"t":393.74,"a":0.4,"b":5.5,"c":-1.2},{"t":393.76,"a":-0.3,"b":-0.7},
{"t":393.78,"a":1.3,"b":1.2,"c":0.9},{"t":393.80,"a":-0.5,"b":-2.5},
{"t":393.82,"a":0.6,"b":0.8,"c":-1.0},{"t":393.84,"a":-0.9,"b":-1.1},
{"t":393.86,"a":0.4,"b":4.8,"c":0.8},{"t":393.88,"a":-0.6,"b":-3.4},
{"t":393.90,"a":2.0,"b":1.3,"c":-0.9},{"t":393.92,"a":-1.5,"b":-0.9},
{"t":393.94,"a":0.5,"b":5.5,"c":1.1},{"t":393.96,"a":-0.4,"b":-5.5},
{"t":393.98,"a":1.6,"b":1.0,"c":-1.3},{"t":394.00,"a":-0.6,"b":-0.8},
{"t":394.02,"a":0.3,"b":3.0,"c":1.5},{"t":394.04,"a":-1.2,"b":-1.2},
{"t":394.06,"a":0.5,"b":0.7,"c":-1.4},{"t":394.08,"a":-0.4,"b":-4.7},
{"t":394.10,"a":1.8,"b":4.2,"c":1.8},{"t":394.12,"a":-0.5,"b":-1.0},
{"t":394.14,"a":0.6,"b":1.1,"c":-1.9},{"t":394.16,"a":-2.0,"b":-0.9},
{"t":394.18,"a":0.4,"b":5.5,"c":2.1},{"t":394.20,"a":-0.3,"b":-2.9},
{"t":394.22,"a":1.4,"b":1.2,"c":-2.0},{"t":394.24,"a":-0.6,"b":-5.5},
{"t":394.26,"a":0.5,"b":0.8,"c":2.3},{"t":394.28,"a":-1.6,"b":-1.3},
{"t":394.30,"a":0.4,"b":3.8,"c":-2.2},{"t":394.32,"a":-0.5,"b":-0.7},
{"t":394.34,"a":2.1,"b":1.0,"c":2.4},{"t":394.36,"a":-0.4,"b":-4.0},
{"t":394.38,"a":0.6,"b":5.5,"c":-2.1},{"t":394.40,"a":-1.4,"b":-1.1},
{"t":394.42,"a":0.3,"b":0.9,"c":2.5},{"t":394.44,"a":-0.5,"b":-5.5},
{"t":394.46,"a":1.5,"b":2.6,"c":-2.3},{"t":394.48,"a":-0.6,"b":-1.0},
{"t":394.50,"a":0.5,"b":5.1,"c":2.2},{"t":394.52,"a":-1.7,"b":-0.8},
{"t":394.54,"a":0.4,"b":1.2,"c":-2.0},{"t":394.56,"a":-0.6,"b":-3.5},
{"t":394.58,"a":1.5,"b":0.9,"c":2.4},{"t":394.60,"a":-0.4,"b":-1.1},
{"t":394.62,"a":0.6,"b":5.5,"c":-2.3},{"t":394.64,"a":-1.2,"b":-4.6},
{"t":394.66,"a":2.0,"b":1.0,"c":2.1},{"t":394.68,"a":-0.5,"b":-0.7},
{"t":394.70,"a":0.3,"b":2.8,"c":-2.5},{"t":394.72,"a":-0.4,"b":-1.3},
{"t":394.74,"a":1.4,"b":4.3,"c":2.2},{"t":394.76,"a":-1.5,"b":-5.5},
{"t":394.78,"a":0.5,"b":0.8,"c":-1.9},{"t":394.80,"a":-0.6,"b":-1.0},
{"t":394.82,"a":1.9,"b":1.2,"c":2.0},{"t":394.84,"a":-0.3,"b":-2.6},
{"t":394.86,"a":0.6,"b":5.5,"c":-1.8},{"t":394.88,"a":-1.3,"b":-0.9},
{"t":394.90,"a":0.4,"b":1.1,"c":1.7},{"t":394.92,"a":-0.5,"b":-4.1},
{"t":394.94,"a":1.2,"b":3.6,"c":-1.9},{"t":394.96,"a":-2.1,"b":-1.2},
{"t":394.98,"a":0.5,"b":0.7,"c":1.6},{"t":395.00,"a":-0.4,"b":-5.5},
{"t":395.02,"a":1.6,"b":1.0,"c":-1.5},{"t":395.04,"a":-0.6,"b":-0.8},
{"t":395.06,"a":0.3,"b":4.7,"c":1.4},{"t":395.08,"a":-1.1,"b":-1.1},
{"t":395.10,"a":0.6,"b":2.5,"c":-1.6},{"t":395.12,"a":-0.5,"b":-3.2},
{"t":395.14,"a":1.8,"b":0.9,"c":1.3},{"t":395.16,"a":-0.4,"b":-1.3},
{"t":395.18,"a":0.5,"b":5.5,"c":-1.2},{"t":395.20,"a":-1.5,"b":-1.0},
{"t":395.22,"a":0.4,"b":1.2,"c":1.1},{"t":395.24,"a":-0.6,"b":-5.5},
{"t":395.26,"a":1.3,"b":3.9,"c":-1.3},{"t":395.28,"a":-0.3,"b":-0.7},
{"t":395.30,"a":0.5,"b":0.8,"c":1.0},{"t":395.32,"a":-1.6,"b":-1.1},
{"t":395.34,"a":0.6,"b":4.4,"c":-1.1},{"t":395.36,"a":-0.4,"b":-2.7},
{"t":395.38,"a":1.4,"b":1.0,"c":1.2},{"t":395.40,"a":-0.5,"b":-0.9},
{"t":395.42,"a":0.3,"b":5.5,"c":-0.9},{"t":395.44,"a":-1.2,"b":-4.8},
{"t":395.46,"a":1.2,"b":1.3,"c":1.0},{"t":395.48,"a":-0.6,"b":-1.2},
{"t":395.50,"a":0.4,"b":0.9,"c":-0.9},{"t":395.52,"a":-1.2,"b":-3.6},
{"t":395.54,"a":0.6,"b":4.2,"c":1.1},{"t":395.56,"a":-0.5,"b":-1.0},
{"t":395.58,"a":1.7,"b":1.1,"c":-0.8},{"t":395.60,"a":-0.4,"b":-0.8},
{"t":395.62,"a":0.5,"b":3.4,"c":1.0},{"t":395.64,"a":-0.9,"b":-5.0},
{"t":395.66,"a":0.3,"b":0.7,"c":-0.9},{"t":395.68,"a":-1.5,"b":-1.2},
{"t":395.70,"a":0.6,"b":5.5,"c":0.7},{"t":395.72,"a":-0.4,"b":-1.0},
{"t":395.74,"a":1.0,"b":0.9,"c":-1.0},{"t":395.76,"a":-0.6,"b":-2.9},
{"t":395.78,"a":0.5,"b":1.3,"c":0.8},{"t":395.80,"a":-1.3,"b":-4.3},
{"t":395.82,"a":1.9,"b":2.6,"c":-0.7},{"t":395.84,"a":-0.5,"b":-0.8},
{"t":395.86,"a":0.4,"b":1.0,"c":0.9},{"t":395.88,"a":-0.3,"b":-1.1},
{"t":395.90,"a":1.1,"b":4.6,"c":-0.8},{"t":395.92,"a":-1.4,"b":-0.7},
{"t":395.94,"a":0.6,"b":1.2,"c":1.0},{"t":395.96,"a":-0.5,"b":-3.8},
{"t":395.98,"a":1.6,"b":0.8,"c":-0.9},{"t":396.00,"a":-0.4,"b":-1.0},
{"t":396.02,"a":0.3,"b":3.1,"c":0.6},{"t":396.04,"a":-0.9,"b":-2.4},
{"t":396.06,"a":0.5,"b":1.1,"c":-0.8},{"t":396.08,"a":-0.6,"b":-0.9},
{"t":396.10,"a":1.2,"b":5.3,"c":0.9},{"t":396.12,"a":-0.4,"b":-1.2},
{"t":396.14,"a":0.6,"b":0.7,"c":-0.7},{"t":396.16,"a":-1.2,"b":-4.0},
{"t":396.18,"a":0.4,"b":2.7,"c":1.0},{"t":396.20,"a":-0.5,"b":-1.1},
{"t":396.22,"a":1.5,"b":1.0,"c":-0.8},{"t":396.24,"a":-0.3,"b":-0.8},
{"t":396.26,"a":0.6,"b":3.9,"c":0.7},{"t":396.28,"a":-1.1,"b":-3.1},
{"t":396.30,"a":0.5,"b":1.2,"c":-0.9},{"t":396.32,"a":-0.4,"b":-0.9},
{"t":396.34,"a":1.7,"b":2.5,"c":0.8},{"t":396.36,"a":-0.6,"b":-1.0},
{"t":396.38,"a":0.4,"b":0.8,"c":-0.6},{"t":396.40,"a":-1.0,"b":-3.4},
{"t":396.42,"a":0.5,"b":1.1,"c":0.7},{"t":396.44,"a":-0.5,"b":-0.7},
{"t":396.46,"a":1.3,"b":2.2,"c":-0.8},{"t":396.48,"a":-0.4,"b":-1.0},
{"t":396.50,"a":0.5,"b":0.6,"c":0.5}
]
},
"vconcat": [
{
 "width": 986, "height": 131,
 "resolve": {"axis": {"x": "independent", "y": "independent"}},
 "layer": [
  {"data": {"name": "sig"},
   "mark": {"type": "line", "color": "black", "strokeWidth": 1.2, "strokeJoin": "bevel", "clip": true},
   "encoding": {
    "x": {"field": "t", "type": "quantitative", "scale": {"domain": [380.5, 396.52], "nice": false, "zero": false}, "axis": null},
    "y": {"field": "a", "type": "quantitative", "scale": {"domain": [-5, 5], "nice": false, "zero": false},
          "axis": {"values": [-5, 0, 5], "ticks": false, "labelPadding": 7, "labelOffset": 3, "title": "vloer", "titlePadding": 18}}
   }},
  {"data": {"name": "ticks"}, "mark": {"type": "rule", "color": "black", "strokeWidth": 1},
   "encoding": {"x": {"field": "tk", "type": "quantitative", "axis": null}, "y": {"datum": 5, "type": "quantitative", "axis": null}, "y2": {"datum": 4.4}}},
  {"data": {"name": "ticks"}, "mark": {"type": "rule", "color": "black", "strokeWidth": 1},
   "encoding": {"x": {"field": "tk", "type": "quantitative", "axis": null}, "y": {"datum": -5, "type": "quantitative", "axis": null}, "y2": {"datum": -4.4}}},
  {"data": {"name": "stars"}, "transform": [{"filter": {"field": "p", "equal": "a"}}],
   "mark": {"type": "point", "shape": "M-1,0H1M0,-1V1M-0.7,-0.7L0.7,0.7M-0.7,0.7L0.7,-0.7", "size": 180, "stroke": "black", "strokeWidth": 1.3, "filled": false, "opacity": 1},
   "encoding": {
    "x": {"field": "t", "type": "quantitative", "axis": null},
    "y": {"field": "v", "type": "quantitative", "axis": null}
   }},
  {"data": {"values": [{}]},
   "mark": {"type": "text", "text": ["top 3.5", "eff 1.2", "rms 0.83"], "align": "left", "baseline": "middle", "dx": 7, "dy": 9, "lineHeight": 20, "fontSize": 19, "font": "Liberation Sans", "color": "black"},
   "encoding": {
    "x": {"datum": 396.52, "type": "quantitative", "axis": null},
    "y": {"datum": 5, "type": "quantitative", "axis": null}
   }}
 ]
},
{
 "width": 986, "height": 131,
 "resolve": {"axis": {"x": "independent", "y": "independent"}},
 "layer": [
  {"data": {"name": "sig"},
   "mark": {"type": "line", "color": "black", "strokeWidth": 1.2, "strokeJoin": "bevel", "clip": true},
   "encoding": {
    "x": {"field": "t", "type": "quantitative", "scale": {"domain": [380.5, 396.52], "nice": false, "zero": false}, "axis": null},
    "y": {"field": "b", "type": "quantitative", "scale": {"domain": [-5, 5], "nice": false, "zero": false},
          "axis": {"labels": false, "ticks": false, "title": "wand x", "titlePadding": 21}}
   }},
  {"data": {"name": "ticks"}, "mark": {"type": "rule", "color": "black", "strokeWidth": 1},
   "encoding": {"x": {"field": "tk", "type": "quantitative", "axis": null}, "y": {"datum": 5, "type": "quantitative", "axis": null}, "y2": {"datum": 4.4}}},
  {"data": {"name": "ticks"}, "mark": {"type": "rule", "color": "black", "strokeWidth": 1},
   "encoding": {"x": {"field": "tk", "type": "quantitative", "axis": null}, "y": {"datum": -5, "type": "quantitative", "axis": null}, "y2": {"datum": -4.4}}},
  {"data": {"values": [{}]},
   "mark": {"type": "text", "text": ["top 8.4", "eff 3.9", "rms 2.3"], "align": "left", "baseline": "middle", "dx": 7, "dy": 9, "lineHeight": 20, "fontSize": 19, "font": "Liberation Sans", "color": "black"},
   "encoding": {
    "x": {"datum": 396.52, "type": "quantitative", "axis": null},
    "y": {"datum": 5, "type": "quantitative", "axis": null}
   }}
 ]
},
{
 "width": 986, "height": 131,
 "resolve": {"axis": {"x": "independent", "y": "independent"}},
 "layer": [
  {"data": {"name": "sig"},
   "transform": [{"filter": {"field": "c", "valid": true}}],
   "mark": {"type": "line", "color": "black", "strokeWidth": 1, "strokeJoin": "bevel", "clip": true},
   "encoding": {
    "x": {"field": "t", "type": "quantitative", "scale": {"domain": [380.5, 396.52], "nice": false, "zero": false},
          "axis": {"orient": "bottom", "values": [382,384,386,388,390,392,394,396], "ticks": false, "labelPadding": 10, "title": null, "labelFlush": false}},
    "y": {"field": "c", "type": "quantitative", "scale": {"domain": [-5, 5], "nice": false, "zero": false},
          "axis": {"labels": false, "ticks": false, "title": "wand y", "titlePadding": 21}}
   }},
  {"data": {"name": "ticks"}, "mark": {"type": "rule", "color": "black", "strokeWidth": 1},
   "encoding": {"x": {"field": "tk", "type": "quantitative", "axis": null}, "y": {"datum": 5, "type": "quantitative", "axis": null}, "y2": {"datum": 4.4}}},
  {"data": {"name": "ticks"}, "mark": {"type": "rule", "color": "black", "strokeWidth": 1},
   "encoding": {"x": {"field": "tk", "type": "quantitative", "axis": null}, "y": {"datum": -5, "type": "quantitative", "axis": null}, "y2": {"datum": -4.4}}},
  {"data": {"name": "stars"}, "transform": [{"filter": {"field": "p", "equal": "c"}}],
   "mark": {"type": "point", "shape": "M-1,0H1M0,-1V1M-0.7,-0.7L0.7,0.7M-0.7,0.7L0.7,-0.7", "size": 180, "stroke": "black", "strokeWidth": 1.3, "filled": false, "opacity": 1},
   "encoding": {
    "x": {"field": "t", "type": "quantitative", "axis": null},
    "y": {"field": "v", "type": "quantitative", "axis": null}
   }},
  {"data": {"values": [{}]},
   "mark": {"type": "text", "text": ["top 4.8", "eff 2.9", "rms 1.1"], "align": "left", "baseline": "middle", "dx": 7, "dy": 9, "lineHeight": 20, "fontSize": 19, "font": "Liberation Sans", "color": "black"},
   "encoding": {
    "x": {"datum": 396.52, "type": "quantitative", "axis": null},
    "y": {"datum": 5, "type": "quantitative", "axis": null}
   }}
 ]
}
]
}
